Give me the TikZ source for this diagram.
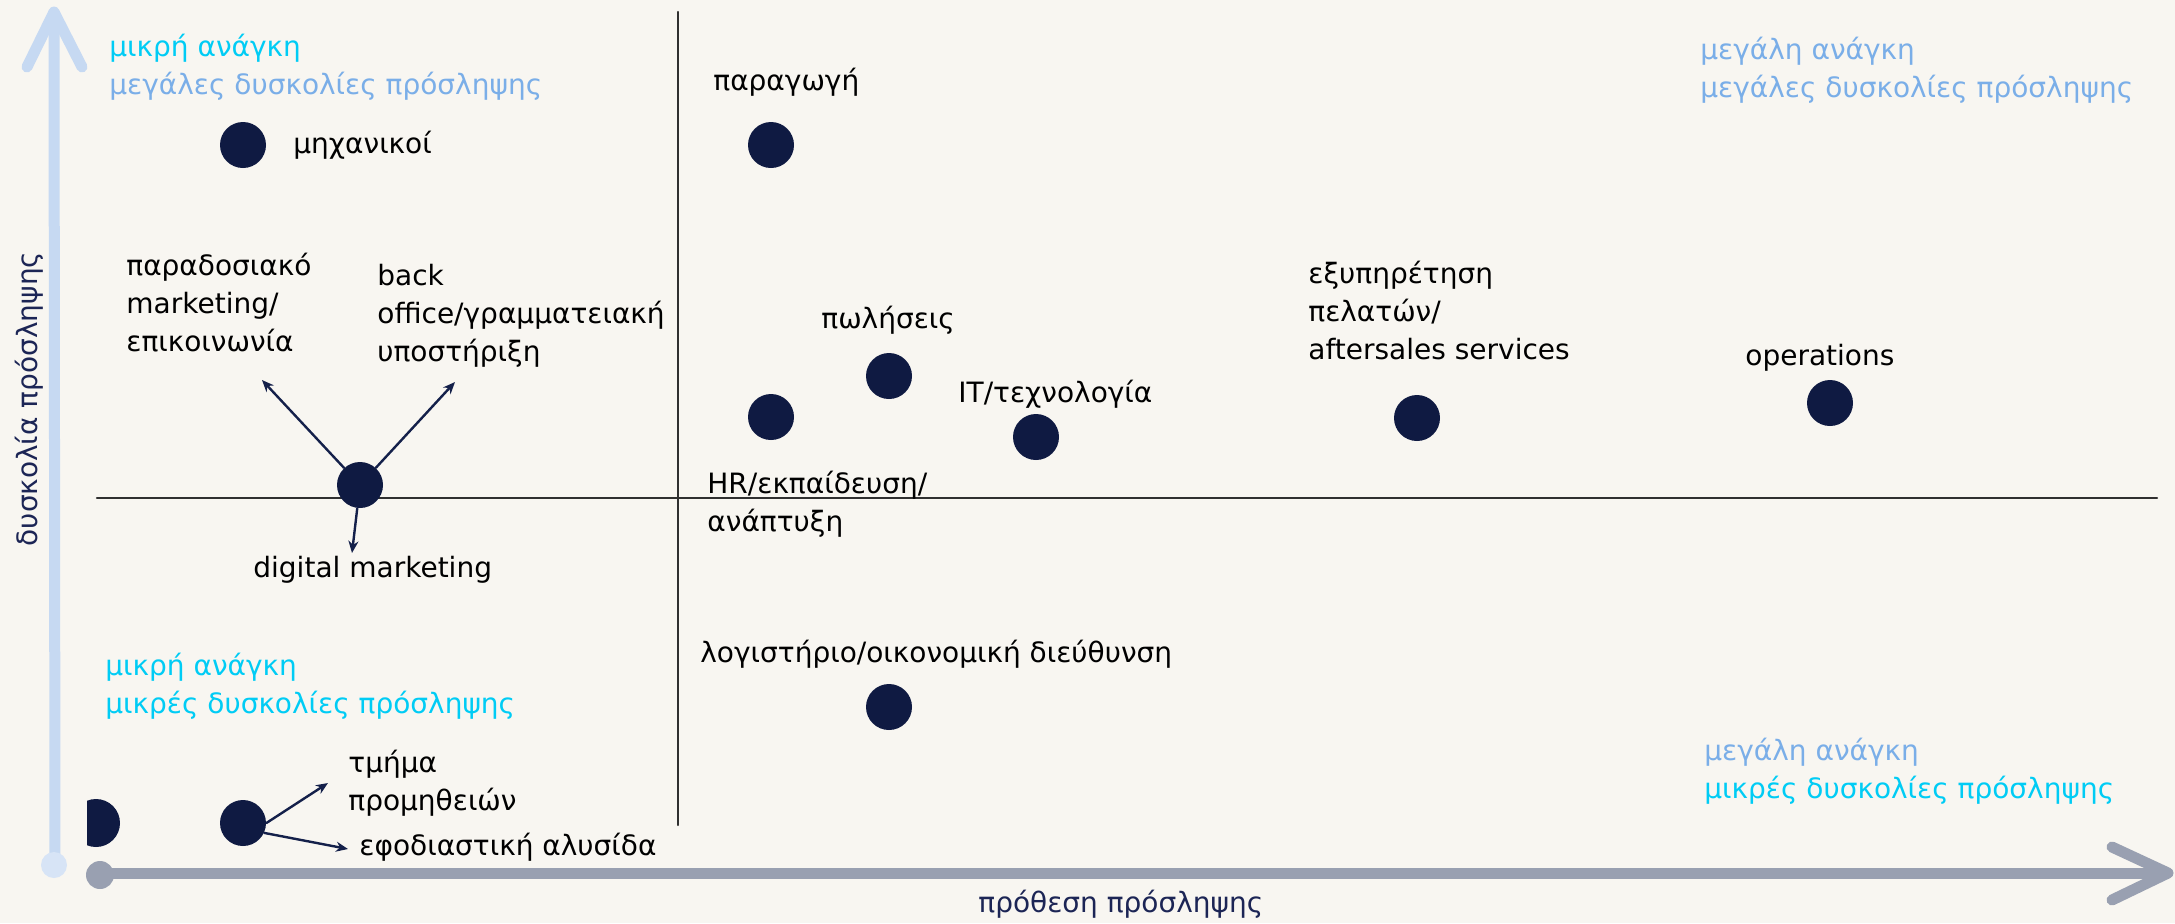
\documentclass[tikz,border=0pt]{standalone}
\usepackage{fontspec}
\setmainfont{DejaVu Sans}
\usetikzlibrary{arrows.meta}
\definecolor{bgcol}{HTML}{F8F6F1}
\definecolor{dotcol}{HTML}{0F1A42}
\definecolor{arrcol}{HTML}{14204A}
\definecolor{axnavy}{HTML}{1C2555}
\definecolor{cyanc}{HTML}{00CCF5}
\definecolor{lblue}{HTML}{7AAEE8}
\definecolor{yaxcol}{HTML}{C6D9F2}
\definecolor{xaxcol}{HTML}{99A0B1}
\definecolor{quadcol}{HTML}{303030}
\begin{document}
\begin{tikzpicture}[x=0.5pt,y=-0.5pt,line cap=round,line join=round,
  >={Stealth[length=6pt,width=5pt]},
  dot/.style={circle,fill=dotcol,minimum size=23pt,inner sep=0pt},
  lbl/.style={font=\fontsize{14}{19}\selectfont,align=left,inner sep=0pt,anchor=base west},
  arr/.style={->,draw=arrcol,fill=arrcol,line width=1.2pt}]
\fill[bgcol] (0,0) rectangle (2175,923);
\useasboundingbox (0,0) rectangle (2175,923);
% axes
\draw[yaxcol,line width=5.5pt] (55,865)--(54,14);
\draw[yaxcol,line width=5.5pt] (27,67)--(54,12)--(82,67);
\fill[yaxcol!70!white] (54,865) circle (6.5pt);
\draw[xaxcol,line width=5.5pt] (100,873)--(2164,873);
\draw[xaxcol,line width=5.5pt] (2112,847)--(2168,873)--(2112,900);
\fill[xaxcol] (100,875) circle (7pt);
% quadrants
\draw[quadcol,line width=1.2pt] (678,12)--(678,825);
\draw[quadcol,line width=1.2pt] (97,498)--(2157,498);
\node[lbl,text=axnavy] (xlab) at (978,912) {πρόθεση πρόσληψης};
\node[lbl,text=axnavy,rotate=90,anchor=base] (ylab) at (37,399) {δυσκολία πρόσληψης};
% corners (base = last line)
\node[lbl] (tl) at (109,94) {\textcolor{cyanc}{μικρή ανάγκη}\\\textcolor{lblue}{μεγάλες δυσκολίες πρόσληψης}};
\node[lbl] (tr) at (1700,97) {\textcolor{lblue}{μεγάλη ανάγκη}\\\textcolor{lblue}{μεγάλες δυσκολίες πρόσληψης}};
\node[lbl] (bl) at (105,713) {\textcolor{cyanc}{μικρή ανάγκη}\\\textcolor{cyanc}{μικρές δυσκολίες πρόσληψης}};
\node[lbl] (br) at (1704,798) {\textcolor{lblue}{μεγάλη ανάγκη}\\\textcolor{cyanc}{μικρές δυσκολίες πρόσληψης}};
% departments
\node[dot] (mech) at (243,145) {};
\node[dot] (prod) at (771,145) {};
\node[dot] (sales) at (889,376) {};
\node[dot] (hr) at (771,417) {};
\node[dot] (it) at (1036,437) {};
\node[dot] (cust) at (1417,418) {};
\node[dot] (ops) at (1830,403) {};
\node[dot] (dig) at (360,485) {};
\node[dot] (acc) at (889,707) {};
\node[dot] (proc) at (243,823) {};
\begin{scope}
\clip (87,790) rectangle (130,860);
\fill[dotcol] (96,823) circle (12pt);
\end{scope}
\node[lbl] (mechl) at (293,153) {μηχανικοί};
\node[lbl] (prodl) at (713,90) {παραγωγή};
\node[lbl] (salesl) at (821,328) {πωλήσεις};
\node[lbl] (itl) at (958,402) {IT/τεχνολογία};
\node[lbl] (hrl) at (707,531) {HR/εκπαίδευση/\\ανάπτυξη};
\node[lbl] (accl) at (700,662) {λογιστήριο/οικονομική διεύθυνση};
\node[lbl] (custl) at (1308,359) {εξυπηρέτηση\\πελατών/\\aftersales services};
\node[lbl] (opsl) at (1745,365) {operations};
\node[lbl] (tradl) at (126,351) {παραδοσιακό\\marketing/\\επικοινωνία};
\node[lbl] (backl) at (377,361) {back\\office/γραμματειακή\\υποστήριξη};
\node[lbl] (digl) at (253,577) {digital marketing};
\node[lbl] (procl) at (348,810) {τμήμα\\προμηθειών};
\node[lbl] (supl) at (359,855) {εφοδιαστική αλυσίδα};
% arrows
\coordinate (tradtip) at (262,380);
\coordinate (backtip) at (455,382);
\coordinate (digtip) at (352,553);
\coordinate (proctip) at (328,783);
\coordinate (suptip) at (348,849);
\draw[arr] (dig)--(tradtip);
\draw[arr] (dig)--(backtip);
\draw[arr] (dig)--(digtip);
\draw[arr] (proc.east)--(proctip);
\draw[arr] (proc.-25)--(suptip);
\end{tikzpicture}
\end{document}
